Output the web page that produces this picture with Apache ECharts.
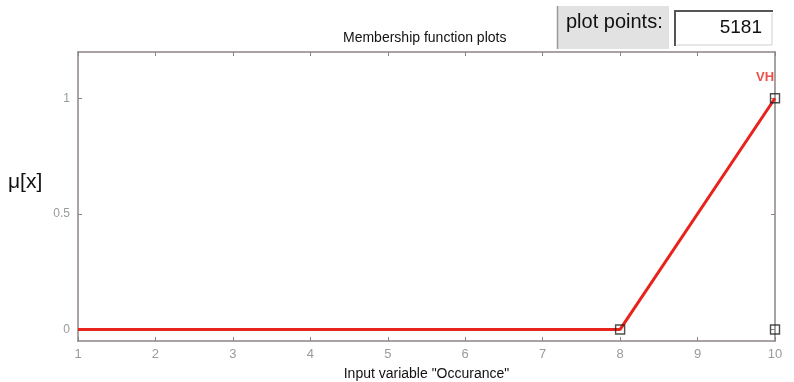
<!DOCTYPE html>
<html>
<head>
<meta charset="utf-8">
<script src="https://cdn.jsdelivr.net/npm/echarts@6/dist/echarts.min.js"></script>
<style>
  html, body { margin: 0; padding: 0; background: #ffffff; }
  #chart { width: 794px; height: 382px; }
</style>
</head>
<body>
<div id="chart"></div>
<script>
// Membership function "VH" of input variable "Occurance"
const xTicks = [1, 2, 3, 4, 5, 6, 7, 8, 9, 10];
const yTicks = [0, 0.5, 1];
const mfX = [1, 8, 10];
const mfY = [0, 0, 1];
const mfParams = [[8, 0], [10, 1], [10, 0]];
const mfName = 'VH';
const plotPoints = '5181';

const axisColor = '#8c8484';
const labelColor = '#9a9a9a';
const lineColor = '#e8231c';
const font = 'Liberation Sans, Arial';

const chart = echarts.init(document.getElementById('chart'));

const xAxisBase = {
  type: 'value', min: 1, max: 10, interval: 1,
  axisLine: { show: true, onZero: false, lineStyle: { color: axisColor, width: 1.5 } },
  axisTick: { show: true, inside: true, length: 4, lineStyle: { color: axisColor } },
  splitLine: { show: false }
};
const yAxisBase = {
  type: 'value', min: -0.05, max: 1.2,
  axisLine: { show: true, onZero: false, lineStyle: { color: axisColor, width: 1.5 } },
  axisTick: { show: true, inside: true, length: 4, customValues: yTicks, lineStyle: { color: axisColor } },
  splitLine: { show: false }
};

chart.setOption({
  backgroundColor: '#ffffff',
  animation: false,
  grid: { left: 78, right: 19, top: 52, bottom: 41, containLabel: false, outerBoundsMode: 'none' },
  xAxis: [
    Object.assign({}, xAxisBase, {
      position: 'bottom',
      axisLabel: { color: labelColor, fontSize: 13, fontFamily: font, margin: 7,
                   customValues: xTicks, formatter: v => String(v) },
      name: 'Input variable "Occurance"', nameLocation: 'middle', nameGap: 26,
      nameTextStyle: { color: '#111', fontSize: 14, fontFamily: font }
    }),
    Object.assign({}, xAxisBase, { position: 'top', axisLabel: { show: false } })
  ],
  yAxis: [
    Object.assign({}, yAxisBase, {
      position: 'left',
      axisLabel: { color: labelColor, fontSize: 12, fontFamily: font, margin: 8,
                   customValues: yTicks, formatter: v => String(v) }
    }),
    Object.assign({}, yAxisBase, { position: 'right', axisLabel: { show: false } })
  ],
  graphic: [
    { type: 'text', left: 8, top: 172,
      style: { text: 'μ[x]', fill: '#111', fontSize: 21, fontFamily: font } },
    { type: 'text', left: 343, top: 31,
      style: { text: 'Membership function plots', fill: '#111', fontSize: 14, fontFamily: font } },
    // "plot points:" button
    { type: 'rect', shape: { x: 557, y: 6, width: 112, height: 43 },
      style: { fill: '#e2e2e2', stroke: null } },
    { type: 'line', shape: { x1: 557.5, y1: 6, x2: 557.5, y2: 49 }, style: { stroke: '#9a9a9a', lineWidth: 1.5 } },
    { type: 'text', left: 566, top: 12,
      style: { text: 'plot points:', fill: '#111', fontSize: 20, fontFamily: font } },
    // plot points edit field
    { type: 'rect', shape: { x: 674, y: 10, width: 99, height: 36 },
      style: { fill: '#ffffff', stroke: null } },
    { type: 'polyline', shape: { points: [[675, 46], [675, 11], [773, 11]] },
      style: { stroke: '#555', lineWidth: 2, fill: null } },
    { type: 'polyline', shape: { points: [[677, 45], [772, 45], [772, 13]] },
      style: { stroke: '#cfcfcf', lineWidth: 1, fill: null } },
    { type: 'text', right: 32, top: 18,
      style: { text: plotPoints, fill: '#111', fontSize: 19, fontFamily: font, align: 'right' } }
  ],
  series: [
    {
      type: 'line', xAxisIndex: 0, yAxisIndex: 0,
      data: mfX.map((x, i) => [x, mfY[i]]),
      symbol: 'none',
      lineStyle: { color: lineColor, width: 3 },
      z: 3
    },
    {
      type: 'scatter', xAxisIndex: 0, yAxisIndex: 0,
      data: mfParams,
      symbol: 'rect', symbolSize: 9,
      itemStyle: { color: 'rgba(0,0,0,0)', borderColor: '#222', borderWidth: 1.4 },
      z: 4
    },
    {
      type: 'scatter', xAxisIndex: 0, yAxisIndex: 0,
      data: [[10, 1]], symbolSize: 0, silent: true,
      label: { show: true, formatter: mfName, position: 'top', distance: 14, offset: [-10, 0],
               color: lineColor, fontWeight: 'bold', fontSize: 13, fontFamily: font }
    }
  ]
});
</script>
</body>
</html>
